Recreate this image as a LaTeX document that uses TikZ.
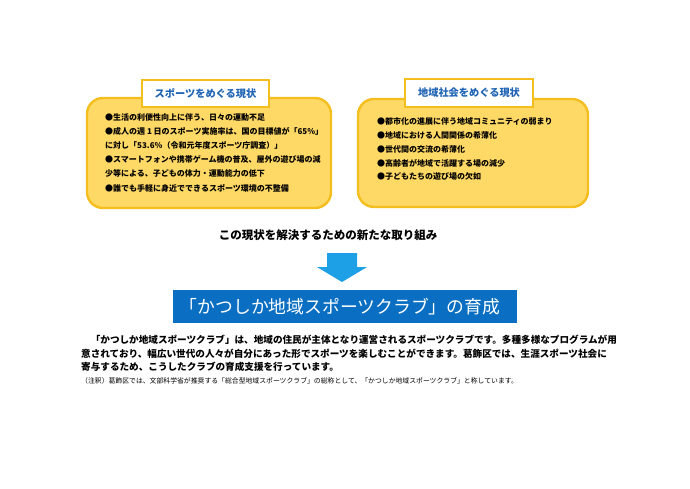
\documentclass[tikz,border=0pt]{standalone}
\usepackage{fontspec}
\setmainfont{Noto Sans CJK JP}
\definecolor{boxfill}{HTML}{FFD966}
\definecolor{boxline}{HTML}{F4BE1E}
\definecolor{titleblue}{HTML}{1F64B4}
\definecolor{arrowblue}{HTML}{1EA0E6}
\definecolor{bandblue}{HTML}{0A6FC2}

\begin{document}
\begin{tikzpicture}[x=1pt,y=-1pt,
        issuebox/.style={draw=boxline,line width=2.4pt,fill=boxfill,rounded corners=16pt},
        titlebox/.style={draw=boxline,line width=2pt,fill=white},
        titletext/.style={text=titleblue,font=\bfseries\fontsize{10.2}{12}\selectfont},
        itemtext/.style={anchor=west,inner sep=0pt,font=\bfseries\fontsize{8}{9}\selectfont},
        bodytext/.style={anchor=west,inner sep=0pt,font=\bfseries\fontsize{9.6}{11}\selectfont}]
        \useasboundingbox (0,0) rectangle (690,488);
        % the two boxes with the present situation
        \draw[issuebox] (87,98) rectangle (331,208);
        \draw[titlebox] (142,80) rectangle (269,107);
        \node[titletext] (sporttitle) at (205.5,93.5) {スポーツをめぐる現状};
        \draw[issuebox] (358,99) rectangle (588,207);
        \draw[titlebox] (405,79) rectangle (533,107);
        \node[titletext] (areatitle) at (469,93) {地域社会をめぐる現状};
        \foreach \n/\txt in {0/{●生活の利便性向上に伴う、日々の運動不足},
            1/{●成人の週 1 日のスポーツ実施率は、国の目標値が「65\%」},
            2/{に対し「53.6\%（令和元年度スポーツ庁調査）」},
            3/{●スマートフォンや携帯ゲーム機の普及、屋外の遊び場の減},
            4/{少等による、子どもの体力・運動能力の低下},
            5/{●誰でも手軽に身近でできるスポーツ環境の不整備}}
        \node[itemtext] (sport\n) at (105,117.5+14.1*\n) {\txt};
        \foreach \n/\txt in {0/{●都市化の進展に伴う地域コミュニティの弱まり},
            1/{●地域における人間関係の希薄化},
            2/{●世代間の交流の希薄化},
            3/{●高齢者が地域で活躍する場の減少},
            4/{●子どもたちの遊び場の欠如}}
        \node[itemtext] (area\n) at (377,121.7+13.75*\n) {\txt};
        % what is done about it
        \node[font=\bfseries\fontsize{11.5}{13}\selectfont] (solve) at (328,235) {この現状を解決するための新たな取り組み};
        \fill[arrowblue] (327,253) -- (357,253) -- (357,267) -- (367,267) -- (342,282) -- (317,267) -- (327,267) -- cycle;
        \fill[bandblue] (173,290) rectangle (517,323);
        \node[text=white,font=\fontsize{17.8}{20}\selectfont] (club) at (340,306.5) {「かつしか地域スポーツクラブ」の育成};
        \foreach \n/\txt/\x in {0/{「かつしか地域スポーツクラブ」は、地域の住民が主体となり運営されるスポーツクラブです。多種多様なプログラムが用}/90.6,
            1/{意されており、幅広い世代の人々が自分にあった形でスポーツを楽しむことができます。葛飾区では、生涯スポーツ社会に}/81,
            2/{寄与するため、こうしたクラブの育成支援を行っています。}/81}
        \node[bodytext] (body\n) at (\x,340+13.5*\n) {\txt};
        \node[anchor=west,inner sep=0pt,font=\fontsize{6.85}{8}\selectfont] (note) at (81,380.5) {（注釈）葛飾区では、文部科学省が推奨する「総合型地域スポーツクラブ」の総称として、「かつしか地域スポーツクラブ」と称しています。};
\end{tikzpicture}
\end{document}
